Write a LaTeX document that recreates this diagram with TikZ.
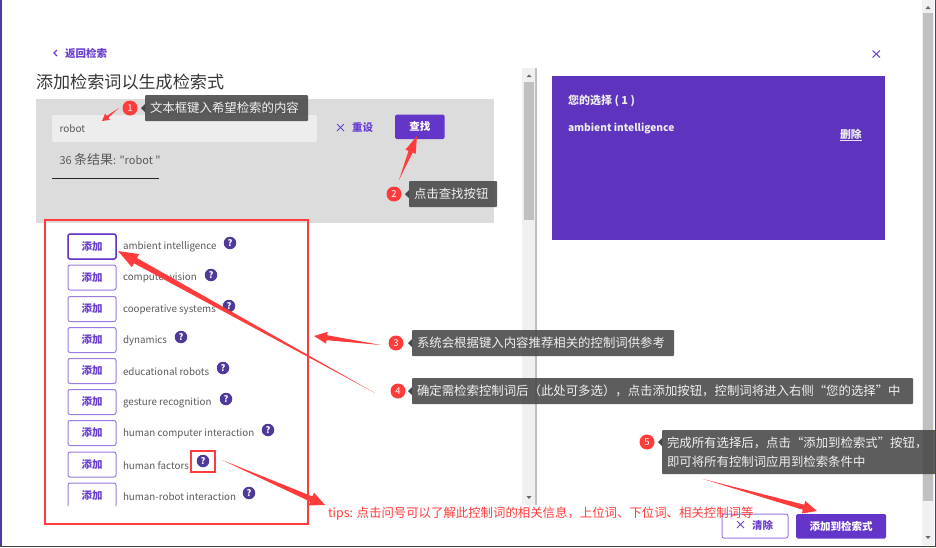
\documentclass[tikz,border=0pt]{standalone}
\usepackage{fontspec}
\setmainfont{Noto Sans CJK SC}
\newfontfamily\plainf{Noto Sans CJK SC}
\usetikzlibrary{calc}
\definecolor{pur}{HTML}{6435C9}
\definecolor{panel}{HTML}{5E33BD}
\definecolor{lnk}{HTML}{6B3FD0}
\definecolor{btnb}{HTML}{9A7BE0}
\definecolor{qm}{HTML}{4F3A9A}
\definecolor{redm}{HTML}{FF3B3B}
\definecolor{grayp}{HTML}{DCDCDC}
\definecolor{trk}{HTML}{F0F0F0}
\definecolor{thm}{HTML}{C0C0C0}
\definecolor{termc}{HTML}{5A5A5A}
\newcommand{\fs}[1]{\fontsize{#1}{#1}\selectfont}
\newcommand{\tarrow}[5]{% start,end,head length,head half width,shaft half width
  \fill[redm] (#1)
   -- ($($(#2)!#3pt!(#1)$)!#5pt!90:(#2)$)
   -- ($($(#2)!#3pt!(#1)$)!#4pt!90:(#2)$)
   -- (#2)
   -- ($($(#2)!#3pt!(#1)$)!#4pt!-90:(#2)$)
   -- ($($(#2)!#3pt!(#1)$)!#5pt!-90:(#2)$)
   -- cycle;}
\tikzset{
  x=1pt,y=-1pt,
  every node/.style={inner sep=0pt,outer sep=0pt},
  addbtn/.style={draw=btnb,line width=1pt,rounded corners=2pt,minimum width=48pt,minimum height=25pt,text=lnk,font=\fs{10.5}\bfseries,fill=white},
  term/.style={anchor=west,text=termc,font=\fs{9.8}},
  qmark/.style={circle,fill=qm,minimum size=12.5pt,text=white,font=\fs{9}\bfseries},
  solid btn/.style={fill=pur,rounded corners=1.5pt,text=white,font=\fs{10.5}\bfseries},
  tip/.style={fill=black!72,fill opacity=.88,text opacity=1,rounded corners=1pt,text=white!94!black,font=\fs{12.4},anchor=west,inner xsep=5pt,align=left},
  badge/.style={circle,fill=redm,minimum size=15pt,text=white,font=\fs{9.5}},
  redbox/.style={draw=redm,line width=2pt},
  lnktext/.style={text=lnk,font=\fs{10.5}\bfseries},
  xmark/.style={draw=lnk,line width=1pt},
}
\begin{document}
\begin{tikzpicture}
\useasboundingbox (0,0) rectangle (936,547);
\fill[white] (0,0) rectangle (936,547);
% window edges
\fill[qm] (0,0) rectangle (2,547);
\fill[qm] (934.5,0) rectangle (936,547);
\fill[black!75] (0,545.5) rectangle (936,547);
% outer scrollbar
\fill[trk] (922,0) rectangle (934,545);
\fill[thm] (923,13) rectangle (933,501);
\fill[black!60] (925.5,9) -- (930.5,9) -- (928,6) -- cycle;
\fill[black!60] (925.5,536) -- (930.5,536) -- (928,539) -- cycle;
% header
\draw[lnk,line width=1.2pt] (57,50) -- (54,53) -- (57,56);
\node[lnktext,anchor=west] (back) at (65,53.5) {返回检索};
\draw[xmark] (872.5,50.5) -- (880,57.5) (880,50.5) -- (872.5,57.5);
\node[anchor=west,text=black!78,font=\fs{17.1}] (title) at (36,81.5) {添加检索词以生成检索式};
% search panel
\fill[grayp] (36,99) rectangle (494,223);
\node[fill=black!7,rounded corners=2pt,minimum width=265pt,minimum height=27pt,anchor=north west] (input) at (52,115) {};
\node[anchor=west,text=termc,font=\fs{10}] (robot) at (59.5,129) {robot};
\draw[xmark] (337,124) -- (344,131) (344,124) -- (337,131);
\node[lnktext,anchor=west] (reset) at (352,127.5) {重设};
\node[solid btn,minimum width=49.5pt,minimum height=24.5pt,anchor=north west] (find) at (395,114.5) {查找};
\node[anchor=west,text=termc,font=\fs{11}\plainf] (count) at (59.5,159.5) {36 {\fs{13}条结果}: "robot "};
\draw[black!85,line width=.7pt] (52,178.5) -- (158.5,178.5);
% inner scrollbar
\fill[trk] (522,68) rectangle (535,505);
\fill[thm] (524,82) rectangle (534,220);
\fill[thm] (535,68) rectangle (537,505);
\fill[black!60] (526.5,77) -- (531.5,77) -- (529,74.5) -- cycle;
\fill[black!60] (526.5,496) -- (531.5,496) -- (529,499) -- cycle;
% selection panel
\fill[panel] (552,76) rectangle (885,240);
\node[anchor=west,text=white!92!black,font=\fs{11}\bfseries] (sel) at (568,101) {您的选择 ( 1 )};
\node[anchor=west,text=white!92!black,font=\fs{10.2}\bfseries] (amb) at (568,128.5) {ambient intelligence};
\node[anchor=west,text=white!92!black,font=\fs{10.8}\bfseries] (del) at (840,134) {删除};
\draw[white!90!black,line width=.6pt] (840,140) -- (862,140);
% list rows
\begin{scope}
\clip (40,225) rectangle (320,505);
\foreach \n/\y/\t/\qx/\qy in {
  1/246.5/ambient intelligence/230/243,
  2/277.5/computer vision/211/275,
  3/309/cooperative systems/229/306,
  4/340/dynamics/181/337,
  5/371/educational robots/223/368,
  6/402/gesture recognition/226/399,
  7/433/human computer interaction/268/430,
  8/464.5/human factors/203/461,
  9/495.5/human-robot interaction/249/493}{
  \node[addbtn] (b\n) at (92,\y) {添加};
  \node[term] (t\n) at (123,\y+0.8) {\t};
  \node[qmark] (q\n) at (\qx,\qy) {?};
}
\end{scope}
\draw[draw=pur,line width=1.5pt,rounded corners=2pt] (68,234) rectangle (116,259);
\node[redbox,minimum width=263pt,minimum height=304pt,anchor=north west] (listbox) at (45,220) {};
\node[redbox,minimum width=24pt,minimum height=21pt,anchor=north west] (qbox) at (191,450.5) {};
% bottom buttons
\node[draw=btnb,line width=1pt,fill=white,rounded corners=2pt,minimum width=66pt,minimum height=24pt,anchor=north west] (clr) at (722,514) {};
\draw[xmark] (737,521) -- (744,528) (744,521) -- (737,528);
\node[lnktext,anchor=west] (clrt) at (752,525.5) {清除};
\node[solid btn,minimum width=90pt,minimum height=24.5pt,anchor=north west] (apply) at (796,514) {添加到检索式};
% tooltips
\newcommand{\tipnode}[7]{% name, box left x, y, badge x, number, text width, text
  \node[badge] (c#1) at (#4,#3) {#5};
  \fill[black!72] (#2-4,#3) -- (#2,#3-4) -- (#2,#3+4) -- cycle;
  \node[tip,minimum height=26pt,text width=#6pt] (tip#1) at (#2,#3) {#7};
}
\tipnode{1}{145}{108}{130}{1}{153}{文本框键入希望检索的内容}
\tipnode{2}{409}{194}{394}{2}{78}{点击查找按钮}
\tipnode{3}{412}{343}{396}{3}{252}{系统会根据键入内容推荐相关的控制词供参考}
\tipnode{4}{412}{391}{398}{4}{491}{确定需检索控制词后（此处可多选），点击添加按钮，控制词将进入右侧“您的选择”中}
\node[badge] (c5) at (647,442) {5};
\fill[black!72] (658,442) -- (662,438) -- (662,446) -- cycle;
\node[tip,anchor=north west,text width=264pt,minimum height=44pt,inner ysep=3pt,font=\fontsize{12.4}{19}\selectfont] (tip5) at (662,430) {完成所有选择后，点击“添加到检索式”按钮，\\即可将所有控制词应用到检索条件中};
% tips text
\node[anchor=west,text=redm,font=\fs{12.4}] (tips) at (328,513.5) {tips: 点击问号可以了解此控制词的相关信息，上位词、下位词、相关控制词等};
% arrows
\coordinate (a1s) at (119,108); \coordinate (a1e) at (102,121);
\coordinate (a2s) at (399,180); \coordinate (a2e) at (417,136);
\coordinate (a3s) at (381,345); \coordinate (a3e) at (314,336);
\coordinate (a4s) at (375,393); \coordinate (a4e) at (118,251);
\coordinate (a5s) at (222,460); \coordinate (a5e) at (325,505);
\coordinate (a6s) at (703,479); \coordinate (a6e) at (817,511);
\tarrow{a1s}{a1e}{7}{4}{1.2}
\tarrow{a2s}{a2e}{17}{5.5}{2.2}
\tarrow{a3s}{a3e}{13}{6}{2.5}
\tarrow{a4s}{a4e}{20}{7.5}{3}
\tarrow{a5s}{a5e}{15}{7}{2.8}
\tarrow{a6s}{a6e}{14}{6.5}{2.6}
\end{tikzpicture}
\end{document}
